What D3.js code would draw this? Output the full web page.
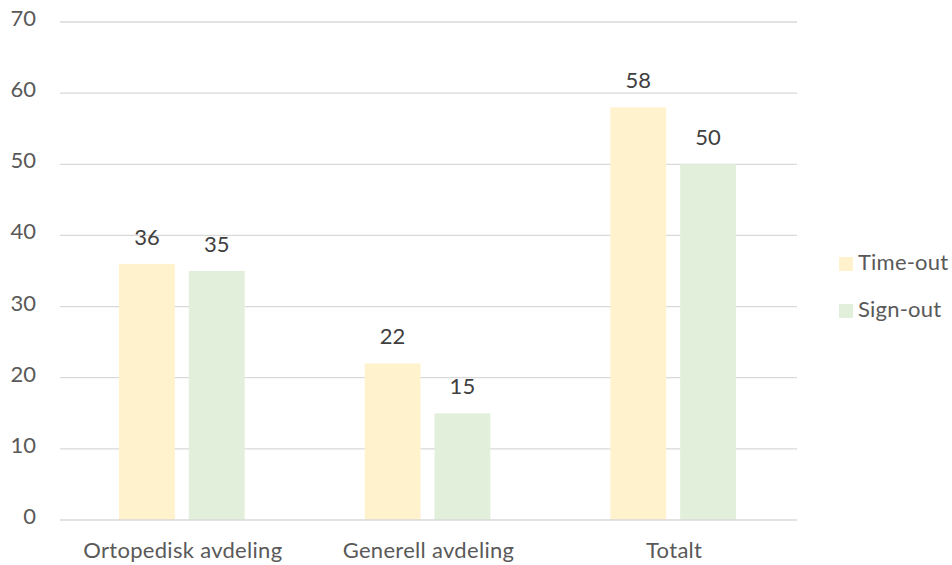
<!DOCTYPE html>
<html>
<head>
<meta charset="utf-8">
<script src="https://cdn.jsdelivr.net/npm/d3@7"></script>
<style>
  html, body { margin: 0; padding: 0; background: #fff; }
  svg { display: block; font-family: Lato, "Open Sans", sans-serif; }
</style>
</head>
<body>
<svg id="chart" width="952" height="565"></svg>
<script>
const categories = ["Ortopedisk avdeling", "Generell avdeling", "Totalt"];
const seriesNames = ["Time-out", "Sign-out"];
const timeOut = [36, 22, 58];
const signOut = [35, 15, 50];
const yTicks = [0, 10, 20, 30, 40, 50, 60, 70];
const colors = ["#FFF2CC", "#E2EFDA"];

const values = [timeOut, signOut];
const rows = categories.map((c, i) => ({ cat: c, vals: seriesNames.map((s, j) => ({ s, v: values[j][i] })) }));

const svg = d3.select("#chart");
const plotLeft = 60, plotRight = 797, plotTop = 22, plotBottom = 520;
const fontSize = 22;

const y = d3.scaleLinear().domain([0, 70]).range([plotBottom, plotTop]);
const x0 = d3.scaleBand().domain(categories).range([plotLeft, plotRight]);
const x1 = d3.scaleBand().domain(seriesNames).range([-1, x0.bandwidth() - 1])
  .paddingInner(0.2).paddingOuter(0.86);
const color = d3.scaleOrdinal().domain(seriesNames).range(colors);

// gridlines
svg.append("g").selectAll("line").data(yTicks.filter(t => t > 0)).join("line")
  .attr("x1", plotLeft).attr("x2", plotRight)
  .attr("y1", d => y(d)).attr("y2", d => y(d))
  .attr("stroke", "#D9D9D9").attr("stroke-width", 1.3);

// y tick labels
svg.append("g").selectAll("text").data(yTicks).join("text")
  .attr("x", 36).attr("y", d => y(d) + 4)
  .attr("text-anchor", "end")
  .attr("fill", "#595959").attr("font-size", fontSize)
  .text(d => d);

// bars
const groups = svg.append("g").selectAll("g").data(rows).join("g")
  .attr("transform", d => `translate(${x0(d.cat)},0)`);

groups.selectAll("rect").data(d => d.vals).join("rect")
  .attr("x", d => x1(d.s)).attr("width", x1.bandwidth())
  .attr("y", d => y(d.v)).attr("height", d => y(0) - y(d.v))
  .attr("fill", d => color(d.s));

groups.selectAll("text").data(d => d.vals).join("text")
  .attr("x", d => x1(d.s) + x1.bandwidth() / 2)
  .attr("y", d => y(d.v) - 19)
  .attr("text-anchor", "middle")
  .attr("fill", "#404040").attr("font-size", fontSize)
  .text(d => d.v);

// x axis line
svg.append("line")
  .attr("x1", plotLeft).attr("x2", plotRight)
  .attr("y1", y(0)).attr("y2", y(0))
  .attr("stroke", "#D9D9D9").attr("stroke-width", 1.3);

// category labels
svg.append("g").selectAll("text").data(categories).join("text")
  .attr("x", d => x0(d) + x0.bandwidth() / 2)
  .attr("y", 558)
  .attr("text-anchor", "middle")
  .attr("letter-spacing", 0.3)
  .attr("fill", "#595959").attr("font-size", fontSize)
  .text(d => d);

// legend
const legend = svg.append("g").selectAll("g").data(seriesNames).join("g")
  .attr("transform", (d, i) => `translate(839,${257 + i * 47})`);
legend.append("rect").attr("width", 14).attr("height", 14).attr("fill", d => color(d));
legend.append("text").attr("x", 19).attr("y", 13)
  .attr("letter-spacing", 0.2)
  .attr("fill", "#595959").attr("font-size", fontSize)
  .text(d => d);
</script>
</body>
</html>
